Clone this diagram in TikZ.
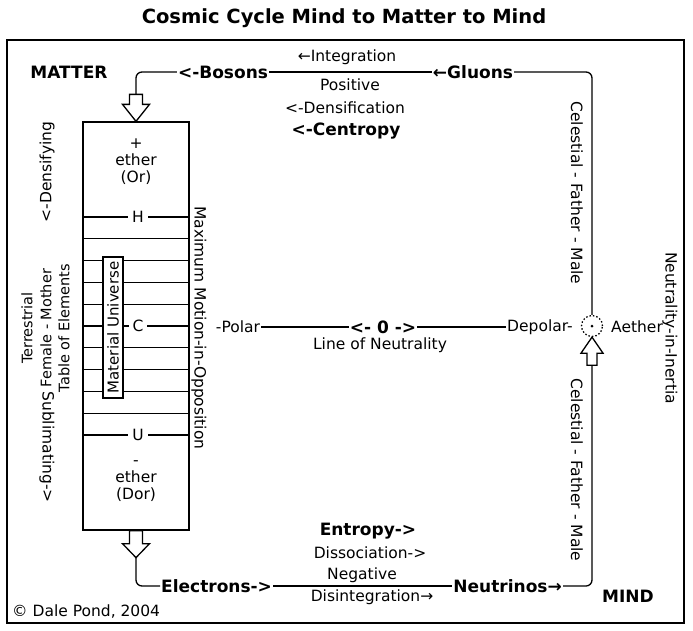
\documentclass[tikz,border=0pt]{standalone}
\usepackage{fontspec}
\setmainfont{DejaVu Sans}
\usepackage{tikz}
\usetikzlibrary{positioning}

\begin{document}
\begin{tikzpicture}[
    x=1pt, y=-1pt,
    lbl/.style={font=\fontsize{15.5}{18}\selectfont, inner sep=1pt},
    slbl/.style={font=\fontsize{14.5}{17}\selectfont, inner sep=1pt},
    blbl/.style={font=\fontsize{17}{20}\selectfont\bfseries, inner sep=1pt},
    ttl/.style={font=\fontsize{19.5}{22}\selectfont\bfseries, inner sep=1pt},
    conn/.style={line width=1.3pt, rounded corners=6pt},
    rung/.style={line width=1.3pt},
    hollow/.style={draw, line width=1.3pt, fill=white, line join=miter},
    elemtag/.style={lbl, fill=white, inner xsep=4pt}
]
    \useasboundingbox (0,0) rectangle (693,630);
    \draw[line width=1.8pt] (7,40) rectangle (684,623);
    \node[ttl] (title) at (344,18) {Cosmic Cycle Mind to Matter to Mind};

    % top row
    \node[blbl] (matter) at (69,72) {MATTER};
    \node[blbl] (bosons) at (223,72) {<-Bosons};
    \node[blbl] (gluons) at (473,72) {←Gluons};
    \node[lbl] (integ) at (347,57) {←Integration};
    \node[lbl] (positive) at (350,85) {Positive};
    \node[lbl] (densif) at (345,108) {<-Densification};
    \node[blbl] (centropy) at (346,131) {<-Centropy};

    % table of elements
    \node[draw, line width=1.3pt, minimum width=106pt, minimum height=408pt, inner sep=0] (table) at (136,326) {};
    \foreach \k in {0,...,10}
        \draw[rung] (83,{217+21.8*\k}) -- (189,{217+21.8*\k});
    \node[draw, fill=white, line width=1.3pt, rotate=90, minimum width=141pt, minimum height=20pt, inner sep=1pt,
        font=\fontsize{15}{18}\selectfont] (univ) at (113,327.5) {Material Universe};
    \node[elemtag] (hyd) at (138,217) {H};
    \node[elemtag] (carb) at (138,326) {C};
    \node[elemtag] (uran) at (138,435) {U};
    \node[lbl, align=center] (plus) at (136,162) {+\\[-1pt]ether\\[-1pt](Or)};
    \node[lbl, align=center] (minus) at (136,481) {-\\[-1pt]ether\\[-1pt](Dor)};

    % left side texts
    \node[slbl, rotate=90] (terr) at (27,328) {Terrestrial};
    \node[slbl, rotate=90] (female) at (46,328) {Female - Mother};
    \node[slbl, rotate=90] (elements) at (64,328) {Table of Elements};
    \node[lbl, rotate=90] (densify) at (47,172) {<-Densifying};
    \node[lbl, rotate=-90] (sublim) at (47,447) {Sublimating->};
    \node[lbl, rotate=-90] (maxmo) at (199,328) {Maximum Motion-in-Opposition};

    % line of neutrality
    \node[lbl] (polar) at (238,327) {-Polar};
    \node[blbl] (zero) at (383,327) {<- 0 ->};
    \node[lbl] (neutral) at (380,345) {Line of Neutrality};
    \node[lbl, anchor=east] (depolar) at (574,327) {Depolar-};
    \node[circle, draw, line width=1.3pt, dash pattern=on 1.5pt off 2pt, minimum size=21pt, inner sep=0] (hub) at (592,326) {};
    \fill (hub.center) circle (1.5pt);
    \node[lbl, anchor=west] (aether) at (610,327) {Aether};
    \draw[conn] (polar) -- (zero);
    \draw[conn] (zero) -- (depolar);

    % right side texts
    \node[lbl, rotate=-90] (celup) at (577,193) {Celestial - Father - Male};
    \node[lbl, rotate=-90] (cellow) at (577,470) {Celestial - Father - Male};
    \node[lbl, rotate=-90] (inertia) at (670,328) {Neutrality-in-Inertia};

    % bottom row
    \node[blbl] (entropy) at (368,531) {Entropy->};
    \node[lbl] (dissoc) at (370,553) {Dissociation->};
    \node[lbl] (negative) at (362,575) {Negative};
    \node[lbl] (disint) at (372,597) {Disintegration→};
    \node[blbl, anchor=west] (electrons) at (160,586) {Electrons->};
    \node[blbl, anchor=east] (neutrinos) at (563,586) {Neutrinos→};
    \node[lbl, anchor=west] (credit) at (11,612) {© Dale Pond, 2004};
    \node[blbl] (mind) at (628,596) {MIND};

    % hollow arrows
    \draw[hollow] (table.north) -- ++(-13.5,-17) -- ++(7,0) -- ++(0,-10) -- ++(13,0) -- ++(0,10) -- ++(7,0) -- cycle;
    \coordinate (toptail) at ([yshift=27pt]table.north);
    \draw[hollow] (table.south) ++(-6.5,0) -- ++(0,13) -- ++(-7,0) -- ++(13.5,14) -- ++(13.5,-14) -- ++(-7,0) -- ++(0,-13) -- cycle;
    \coordinate (bottip) at ([yshift=-27pt]table.south);
    \draw[hollow] (hub.south) -- ++(-11,16) -- ++(6,0) -- ++(0,12) -- ++(10,0) -- ++(0,-12) -- ++(6,0) -- cycle;
    \coordinate (hubtail) at ([yshift=-28pt]hub.south);

    % cycle
    \draw[conn] (gluons.west) -- (bosons.east);
    \draw[conn] (bosons.west) -| (toptail);
    \draw[conn] (gluons.east) -| (hub.north);
    \draw[conn] (bottip) |- (electrons.west);
    \draw[conn] (electrons) -- (neutrinos);
    \draw[conn] (neutrinos.east) -| (hubtail);
\end{tikzpicture}
\end{document}
